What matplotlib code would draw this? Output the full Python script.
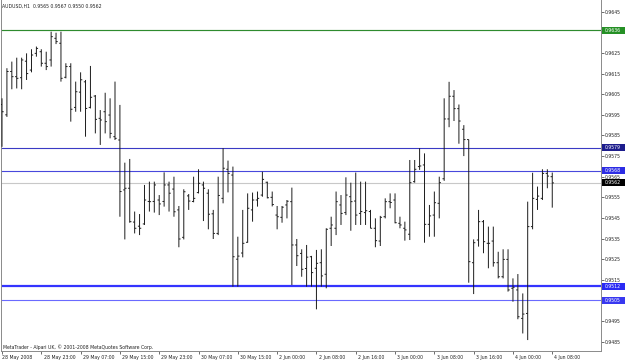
import matplotlib
matplotlib.use("Agg")
import matplotlib.pyplot as plt
import matplotlib.transforms as mtransforms
from matplotlib.collections import LineCollection
from matplotlib.patches import Rectangle

symbol = "AUDUSD,H1"
copyright_text = "MetaTrader - Alpari UK, \u00a9 2001-2008 MetaQuotes Software Corp."

opens = [0.96000, 0.95950, 0.96160, 0.96135, 0.96130, 0.96210, 0.96167, 0.96248, 0.96256, 0.96200,
         0.96216, 0.96321, 0.96297, 0.96132, 0.96184, 0.95986, 0.96060, 0.96110, 0.95986, 0.96041,
         0.95933, 0.95965, 0.95949, 0.95844, 0.95828, 0.95586, 0.95594, 0.95430, 0.95410, 0.95421,
         0.95530, 0.95530, 0.95537, 0.95530, 0.95610, 0.95590, 0.95489, 0.95356, 0.95557, 0.95530,
         0.95573, 0.95610, 0.95570, 0.95470, 0.95375, 0.95545, 0.95686, 0.95658, 0.95250, 0.95280,
         0.95332, 0.95489, 0.95537, 0.95561, 0.95623, 0.95550, 0.95464, 0.95453, 0.95513, 0.95529,
         0.95319, 0.95278, 0.95205, 0.95262, 0.95206, 0.95233, 0.95177, 0.95400, 0.95400, 0.95513,
         0.95476, 0.95553, 0.95532, 0.95472, 0.95476, 0.95481, 0.95400, 0.95338, 0.95456, 0.95529,
         0.95537, 0.95424, 0.95400, 0.95371, 0.95626, 0.95699, 0.95707, 0.95419, 0.95464, 0.95521,
         0.95640, 0.95930, 0.96040, 0.95980, 0.95880, 0.95830, 0.95233, 0.95343, 0.95432, 0.95327,
         0.95338, 0.95233, 0.95165, 0.95249, 0.95109, 0.95101, 0.94963, 0.94987, 0.95408, 0.95540,
         0.95545, 0.95666, 0.95650]
highs = [0.96030, 0.96176, 0.96208, 0.96227, 0.96227, 0.96248, 0.96268, 0.96281, 0.96268, 0.96256,
         0.96353, 0.96348, 0.96353, 0.96200, 0.96200, 0.96111, 0.96156, 0.96119, 0.96187, 0.96046,
         0.95973, 0.96057, 0.96030, 0.96111, 0.95998, 0.95718, 0.95736, 0.95481, 0.95469, 0.95610,
         0.95626, 0.95626, 0.95561, 0.95671, 0.95626, 0.95650, 0.95508, 0.95589, 0.95566, 0.95650,
         0.95686, 0.95626, 0.95589, 0.95489, 0.95650, 0.95788, 0.95728, 0.95699, 0.95359, 0.95489,
         0.95569, 0.95573, 0.95578, 0.95674, 0.95626, 0.95578, 0.95508, 0.95508, 0.95537, 0.95597,
         0.95348, 0.95298, 0.95319, 0.95266, 0.95295, 0.95298, 0.95400, 0.95456, 0.95578, 0.95561,
         0.95647, 0.95621, 0.95670, 0.95626, 0.95626, 0.95489, 0.95448, 0.95460, 0.95545, 0.95569,
         0.95569, 0.95456, 0.95432, 0.95731, 0.95731, 0.95788, 0.95763, 0.95513, 0.95578, 0.95650,
         0.96030, 0.96110, 0.96070, 0.96000, 0.95900, 0.95830, 0.95346, 0.95489, 0.95440, 0.95408,
         0.95408, 0.95286, 0.95298, 0.95298, 0.95157, 0.95178, 0.95084, 0.95529, 0.95669, 0.95602,
         0.95686, 0.95686, 0.95670]
lows = [0.95795, 0.95940, 0.96074, 0.96078, 0.96074, 0.96119, 0.96156, 0.96232, 0.96184, 0.96167,
        0.96184, 0.96293, 0.96111, 0.96127, 0.95917, 0.95965, 0.95965, 0.95844, 0.95981, 0.95860,
        0.95804, 0.95860, 0.95836, 0.95828, 0.95456, 0.95346, 0.95427, 0.95375, 0.95367, 0.95416,
        0.95481, 0.95476, 0.95464, 0.95505, 0.95481, 0.95456, 0.95308, 0.95346, 0.95489, 0.95526,
        0.95569, 0.95435, 0.95395, 0.95348, 0.95367, 0.95521, 0.95574, 0.95117, 0.95117, 0.95259,
        0.95330, 0.95432, 0.95505, 0.95553, 0.95545, 0.95506, 0.95395, 0.95427, 0.95448, 0.95125,
        0.95217, 0.95165, 0.95117, 0.95117, 0.95007, 0.95117, 0.95109, 0.95314, 0.95367, 0.95416,
        0.95464, 0.95388, 0.95416, 0.95416, 0.95416, 0.95400, 0.95308, 0.95314, 0.95448, 0.95497,
        0.95424, 0.95400, 0.95340, 0.95343, 0.95621, 0.95683, 0.95330, 0.95359, 0.95359, 0.95448,
        0.95630, 0.95890, 0.95920, 0.95810, 0.95750, 0.95136, 0.95081, 0.95311, 0.95279, 0.95206,
        0.95214, 0.95157, 0.95157, 0.95093, 0.95044, 0.94959, 0.94890, 0.94858, 0.95395, 0.95489,
        0.95537, 0.95594, 0.95500]
closes = [0.95965, 0.96160, 0.96135, 0.96127, 0.96216, 0.96150, 0.96240, 0.96272, 0.96200, 0.96184,
          0.96329, 0.96305, 0.96127, 0.96184, 0.95977, 0.96062, 0.96120, 0.95981, 0.96035, 0.95928,
          0.95925, 0.95917, 0.95860, 0.95836, 0.95578, 0.95594, 0.95432, 0.95400, 0.95400, 0.95537,
          0.95529, 0.95610, 0.95518, 0.95610, 0.95570, 0.95480, 0.95348, 0.95577, 0.95532, 0.95545,
          0.95618, 0.95594, 0.95468, 0.95375, 0.95559, 0.95691, 0.95666, 0.95262, 0.95265, 0.95327,
          0.95497, 0.95537, 0.95545, 0.95637, 0.95548, 0.95515, 0.95456, 0.95502, 0.95531, 0.95319,
          0.95267, 0.95201, 0.95260, 0.95185, 0.95230, 0.95169, 0.95395, 0.95416, 0.95529, 0.95472,
          0.95561, 0.95529, 0.95464, 0.95481, 0.95485, 0.95400, 0.95340, 0.95453, 0.95529, 0.95525,
          0.95427, 0.95416, 0.95392, 0.95621, 0.95686, 0.95702, 0.95419, 0.95460, 0.95524, 0.95621,
          0.95930, 0.96040, 0.95980, 0.95920, 0.95830, 0.95238, 0.95330, 0.95432, 0.95335, 0.95327,
          0.95233, 0.95165, 0.95249, 0.95101, 0.95114, 0.94971, 0.94984, 0.95408, 0.95545, 0.95556,
          0.95666, 0.95653, 0.95620]

time_labels = ["28 May 2008", "28 May 23:00", "29 May 07:00", "29 May 15:00", "29 May 23:00",
               "30 May 07:00", "30 May 15:00", "2 Jun 00:00", "2 Jun 08:00", "2 Jun 16:00",
               "3 Jun 00:00", "3 Jun 08:00", "3 Jun 16:00", "4 Jun 00:00", "4 Jun 08:00"]
bars_per_label = 8

price_ticks = [0.9485, 0.9495, 0.9505, 0.9515, 0.9525, 0.9535, 0.9545, 0.9555, 0.9565,
               0.9575, 0.9585, 0.9595, 0.9605, 0.9615, 0.9625, 0.9635, 0.9645]

levels = [0.9636, 0.9579, 0.9568, 0.9562, 0.9512, 0.9505]
level_line_colors = ["#2e8b2e", "#3a3ac4", "#4848dc", "#c8c8c8", "#3434ff", "#6a6aff"]
level_line_widths = [0.85, 0.8, 0.8, 0.8, 1.6, 0.8]
level_box_colors = ["#259025", "#1c1c8c", "#2c2ce4", "#000000", "#2a2af4", "#3838f0"]

FS = 3.35
W, H = 625, 363
fig = plt.figure(figsize=(W / 100, H / 100), dpi=100)
fig.patch.set_facecolor("white")
plot_left, plot_right, plot_bottom = 1, 601, 351
ax = fig.add_axes([plot_left / W, (H - plot_bottom) / H,
                   (plot_right - plot_left) / W, plot_bottom / H])
ax.set_facecolor("white")

n = len(opens)
px_per_bar = 4.913
first_bar_px = 2.0
ax.set_xlim((plot_left - first_bar_px) / px_per_bar,
            (plot_right - first_bar_px) / px_per_bar)
px_per_price = 20625.0
ax.set_ylim(0.9645 - (plot_bottom - 11.7) / px_per_price,
            0.9645 + 11.7 / px_per_price)

# level lines
for lv, c, lw in zip(levels, level_line_colors, level_line_widths):
    ax.axhline(lv, color=c, lw=lw, zorder=2)

# OHLC bars
tick_len = 0.34
segs = []
for i in range(n):
    segs.append([(i, lows[i]), (i, highs[i])])
    segs.append([(i - tick_len, opens[i]), (i, opens[i])])
    segs.append([(i, closes[i]), (i + tick_len, closes[i])])
lc = LineCollection(segs, colors="#1a1a1a", linewidths=0.7, zorder=3)
lc.set_snap(False)
lc.set_antialiased(True)
ax.add_collection(lc)

# spines
for s in ["left", "bottom", "right"]:
    ax.spines[s].set_color("#8a8a8a")
    ax.spines[s].set_linewidth(0.7)
ax.spines["top"].set_visible(False)

# price axis (right); labels hidden behind a level box are left blank
box_h = 7.0 / px_per_price
ax.yaxis.tick_right()
ax.set_yticks(price_ticks)
ax.set_yticklabels(["" if any(abs(p - lv) < box_h * 0.8 for lv in levels) else f"{p:.4f}"
                    for p in price_ticks])
ax.tick_params(axis="y", which="both", direction="out", length=2.0, width=0.6,
               color="#555555", labelsize=FS, pad=1.0, labelcolor="#222222")

# time axis
xt = list(range(0, n, bars_per_label))
ax.set_xticks(xt)
ax.set_xticklabels([""] * len(xt))
ax.tick_params(axis="x", which="both", direction="out", length=2.2, width=0.6,
               color="#555555")
tx = mtransforms.blended_transform_factory(ax.transData, ax.transAxes)
for k, lab in enumerate(time_labels):
    pos = xt[k] + (0.0 if k == 0 else 0.45)
    ax.text(pos, -3.5 / plot_bottom, lab, transform=tx, ha="left", va="top",
            fontsize=FS, color="#222222", clip_on=False)

# level boxes on price axis
ty = mtransforms.blended_transform_factory(ax.transAxes, ax.transData)
axw = plot_right - plot_left
for lv, bc in zip(levels, level_box_colors):
    r = Rectangle((1.0 + 1.0 / axw, lv - box_h / 2), 23.0 / axw, box_h,
                  transform=ty, facecolor=bc, edgecolor="none", clip_on=False, zorder=10)
    ax.add_patch(r)
    ax.text(1.0 + 4.0 / axw, lv, f"{lv:.4f}", transform=ty, ha="left", va="center",
            fontsize=FS, color="white", clip_on=False, zorder=11)

# header and copyright
header = f"{symbol}  {opens[-1]:.4f} {highs[-1]:.4f} {lows[-1]:.4f} {closes[-1]:.4f}"
fig.text(2.5 / W, 1 - 6.5 / H, header, fontsize=FS, ha="left", va="center", color="#222222")
ax.text(2.0 / axw, 3.8 / plot_bottom, copyright_text, transform=ax.transAxes,
        ha="left", va="center", fontsize=FS, color="#222222")

fig.savefig("out.png", dpi=100, facecolor="white")
